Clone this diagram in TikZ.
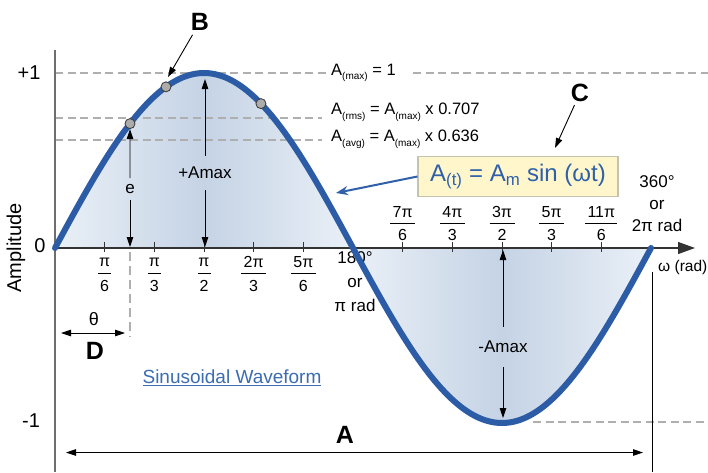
\documentclass[tikz,border=0pt]{standalone}
\usepackage{fontspec}
\setmainfont{Liberation Sans}
\usetikzlibrary{arrows.meta}
\definecolor{wave}{RGB}{44,92,166}
\definecolor{fillL}{RGB}{234,240,247}
\definecolor{fillD}{RGB}{197,211,229}
\definecolor{dashc}{RGB}{175,175,175}
\definecolor{boxfill}{RGB}{255,246,204}
\definecolor{boxdraw}{RGB}{195,195,175}
\definecolor{linkc}{RGB}{60,108,178}
\definecolor{formc}{RGB}{48,96,170}
\definecolor{axisc}{RGB}{110,110,110}
\newcommand\fs[1]{\fontsize{#1}{#1}\selectfont}
\newcommand\lsub[1]{\raisebox{-0.28em}{\fontsize{10}{10}\selectfont #1}}
\begin{document}
\begin{tikzpicture}[x=1pt,y=-1pt,
  every node/.style={inner sep=0pt},
  big/.style={font=\fs{25}\bfseries},
  dashl/.style={draw=dashc, line width=1.1pt, dash pattern=on 8pt off 4.5pt},
  tip/.style={-{Triangle[length=10pt,width=6.5pt]}},
  dtip/.style={{Triangle[length=10pt,width=6.5pt]}-{Triangle[length=10pt,width=6.5pt]}},
  thinarr/.style={line width=0.9pt},
  ptdot/.style={circle, fill=gray!65, draw=black!75, line width=0.9pt, minimum size=10pt},
]
\useasboundingbox (0,0) rectangle (708,472);
\fill[white] (0,0) rectangle (708,472);

% shaded lobes
\fill[left color=fillL,right color=fillL,middle color=fillD]
  (55,248) -- plot[domain=0:180,samples=90] ({55+1.65556*\x},{248-175*sin(\x)}) -- cycle;
\fill[left color=fillL,right color=fillL,middle color=fillD]
  (353,248) -- plot[domain=180:360,samples=90] ({55+1.65556*\x},{248-175*sin(\x)}) -- cycle;

% guide lines
\draw[dashl] (55,73) -- (326,73);
\draw[dashl] (413,73) -- (708,73);
\draw[dashl] (55,118) -- (322,118);
\draw[dashl] (55,140) -- (322,140);
\draw[dashl] (533,422) -- (708,422);
\draw[dashl, dash pattern=on 9pt off 5pt] (130,252) -- (130,337);

% axes
\draw[axisc, line width=1.1pt] (55,50) -- (55,472);
\coordinate (o) at (55,248);
\coordinate (xend) at (695,248);
\draw[line width=1.1pt, black!80, -{Triangle[length=17pt,width=12pt]}] (o) -- (xend);
\foreach \k in {1,2,3,4,5,7,8,9,10,11}{
  \draw[line width=1pt, black!80] ({55+49.667*\k},242) -- ({55+49.667*\k},252);
}
\draw[black, line width=1pt] (652.5,272) -- (652.5,472);

% tick labels
\foreach \k/\n/\d/\w in {1/π/6/6.5,2/π/3/6.5,3/π/2/6.5,4/2π/3/12.5,5/5π/6/12.5}{
  \pgfmathsetmacro\xx{55+49.667*\k}
  \node[font=\fs{16}] (num\k) at (\xx,262) {\n};
  \node[font=\fs{16}] (den\k) at (\xx,286) {\d};
  \draw[line width=1pt] ({\xx-\w},273.5) -- ({\xx+\w},273.5);
}
\foreach \k/\n/\d/\w in {7/7π/6/12.5,8/4π/3/12.5,9/3π/2/12.5,10/5π/3/12.5,11/11π/6/16}{
  \pgfmathsetmacro\xx{55+49.667*\k}
  \node[font=\fs{16}] (num\k) at (\xx,212) {\n};
  \node[font=\fs{16}] (den\k) at (\xx,235) {\d};
  \draw[line width=1pt] ({\xx-\w},223.5) -- ({\xx+\w},223.5);
}
\node[font=\fontsize{17}{24}\selectfont, align=center] (pirad) at (355,282) {180°\\or\\π rad};
\node[font=\fontsize{17}{22}\selectfont, align=center] (twopi) at (657,204) {360°\\or\\2π rad};
\node[anchor=west, font=\fs{15.5}] (wrad) at (658,267) {ω (rad)};

% axis labels
\node[font=\fs{20}] (plus1) at (29,73) {+1};
\node[font=\fs{20}] (zero) at (40,246) {0};
\node[font=\fs{20}] (minus1) at (31,421) {-1};
\node[font=\fs{20}, rotate=90] (amp) at (16,248) {Amplitude};

% wave
\draw[wave, line width=6pt, line cap=round]
  plot[domain=0:360,samples=180] ({55+1.65556*\x},{248-175*sin(\x)});

% points on the wave
\node[ptdot] (d1) at ({55+1.65556*45.3},{248-175*sin(45.3)}) {};
\node[ptdot] (d2) at ({55+1.65556*67.05},{248-175*sin(67.05)}) {};
\node[ptdot] (d3) at ({55+1.65556*124.4},{248-175*sin(124.4)}) {};

% level labels
\node[anchor=west, font=\fs{16.5}] (lmax) at (331,73) {A\lsub{(max)} = 1};
\node[anchor=west, font=\fs{16.5}] (lrms) at (331,112) {A\lsub{(rms)} = A\lsub{(max)} x 0.707};
\node[anchor=west, font=\fs{16.5}] (lavg) at (331,139) {A\lsub{(avg)} = A\lsub{(max)} x 0.636};

% e arrows
\node[font=\fs{17}, inner ysep=6pt] (elbl) at (130,189) {e};
\coordinate (e0) at (130,247);
\draw[thinarr,tip] (elbl) -- (d1);
\draw[thinarr,tip] (elbl) -- (e0);

% +Amax
\node[font=\fs{17}, inner ysep=11pt] (amax) at (205,173) {+Amax};
\coordinate (amaxT) at (205,79);
\coordinate (amaxB) at (205,247);
\draw[thinarr,tip] (amax) -- (amaxT);
\draw[thinarr,tip] (amax) -- (amaxB);

% -Amax
\node[font=\fs{17}, inner ysep=14pt] (mamax) at (503,347) {-Amax};
\coordinate (mamaxT) at (503,250);
\coordinate (mamaxB) at (503,418);
\draw[thinarr,tip] (mamax) -- (mamaxT);
\draw[thinarr,tip] (mamax) -- (mamaxB);

% theta
\coordinate (th1) at (61,333);
\coordinate (th2) at (125,333);
\draw[thinarr,dtip] (th1) -- (th2);
\node[font=\fs{18}] (theta) at (94,319) {θ};
\node[big] (D) at (95,351) {D};

% A span
\coordinate (a1) at (66,452.5);
\coordinate (a2) at (643,452.5);
\draw[thinarr,dtip] (a1) -- (a2);
\node[big] (A) at (345,435) {A};

% B and C
\node[big, inner sep=4pt] (B) at (200,22) {B};
\coordinate (Bt) at (168,77);
\draw[thinarr,tip] (B) -- (Bt);
\node[big, inner sep=3pt] (C) at (580,93) {C};
\coordinate (Ct) at (555,148);
\draw[thinarr,tip] (C) -- (Ct);

% formula box
\node[draw=boxdraw, fill=boxfill, line width=1.2pt, minimum width=200pt, minimum height=40pt,
      font=\fs{24}, text=formc] (form) at (518,176.5)
      {A\textsubscript{(t)} = A\textsubscript{m} sin (ωt)};
\coordinate (ft) at (336,193);
\draw[formc, line width=2pt, -{Stealth[length=12pt,width=9pt]}] (form.west) -- (ft);

% link text
\node[text=linkc, font=\fs{19}] (sw) at (232,378) {\underline{Sinusoidal Waveform}};
\end{tikzpicture}
\end{document}
